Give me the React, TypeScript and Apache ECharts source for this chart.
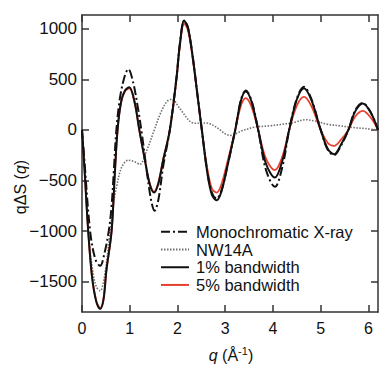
import React, { useEffect, useRef } from "react";
import * as echarts from "echarts";

// q (Å^-1) sample positions and values
const qMono = [0, 0.05, 0.17, 0.28, 0.38, 0.47, 0.56, 0.62, 0.67, 0.72, 0.8, 0.9, 0.97, 1.07, 1.17, 1.26, 1.36, 1.45, 1.52, 1.6, 1.7, 1.84, 1.98, 2.05, 2.14, 2.22, 2.32, 2.42, 2.51, 2.62, 2.72, 2.82, 2.92, 3.05, 3.21, 3.33, 3.43, 3.55, 3.69, 3.85, 4.04, 4.2, 4.34, 4.5, 4.65, 4.8, 5.0, 5.15, 5.28, 5.42, 5.58, 5.72, 5.88, 6.05, 6.2];
const vMono = [0, -300, -1000, -1280, -1344, -1220, -1000, -750, -380, 0, 330, 540, 600, 470, 220, -60, -420, -700, -800, -690, -360, 0, 520, 850, 1080, 1010, 720, 340, 0, -400, -620, -680, -600, -350, 0, 300, 390, 290, 0, -390, -563, -360, 0, 310, 425, 310, 0, -200, -250, -160, 0, 190, 265, 170, 0];

const qNW = [0, 0.05, 0.13, 0.22, 0.3, 0.38, 0.47, 0.59, 0.66, 0.72, 0.83, 0.97, 1.1, 1.21, 1.35, 1.5, 1.65, 1.78, 1.88, 2.05, 2.27, 2.4, 2.6, 2.8, 3.1, 3.35, 3.6, 3.94, 4.2, 4.43, 4.68, 4.9, 5.13, 5.4, 5.68, 5.95, 6.2];
const vNW = [0, -300, -1000, -1380, -1550, -1590, -1450, -1000, -720, -570, -370, -300, -315, -340, -210, -20, 170, 280, 303, 210, 80, 65, 68, 30, -55, -10, 25, 40, 55, 72, 100, 85, 56, 40, 23, 12, -3];

const qOne = [0, 0.05, 0.13, 0.21, 0.3, 0.38, 0.45, 0.51, 0.62, 0.68, 0.745, 0.82, 0.9, 0.99, 1.1, 1.2, 1.32, 1.42, 1.51, 1.6, 1.7, 1.84, 1.98, 2.05, 2.14, 2.22, 2.32, 2.42, 2.51, 2.62, 2.72, 2.82, 2.92, 3.05, 3.21, 3.33, 3.43, 3.55, 3.69, 3.85, 4.04, 4.2, 4.34, 4.5, 4.65, 4.8, 5.0, 5.15, 5.28, 5.42, 5.58, 5.72, 5.88, 6.05, 6.2];
const vOne = [0, -370, -1000, -1450, -1700, -1770, -1680, -1393, -1000, -500, 0, 280, 390, 420, 280, 0, -306, -540, -620, -530, -300, 0, 517, 847, 1077, 1010, 720, 340, 0, -410, -640, -695, -610, -350, 0, 290, 378, 280, 0, -330, -471, -300, 0, 300, 412, 300, 0, -190, -240, -150, 0, 180, 260, 170, 0];

const qFive = [0, 0.05, 0.13, 0.21, 0.3, 0.38, 0.45, 0.51, 0.62, 0.68, 0.745, 0.82, 0.9, 0.99, 1.1, 1.2, 1.32, 1.42, 1.51, 1.6, 1.7, 1.84, 1.98, 2.05, 2.14, 2.22, 2.32, 2.42, 2.51, 2.62, 2.72, 2.82, 2.92, 3.05, 3.21, 3.33, 3.43, 3.55, 3.69, 3.85, 4.04, 4.2, 4.34, 4.5, 4.65, 4.8, 5.0, 5.15, 5.28, 5.42, 5.58, 5.72, 5.88, 6.05, 6.2];
const vFive = [0, -370, -1000, -1450, -1690, -1760, -1670, -1393, -1000, -500, 0, 270, 380, 410, 270, 0, -300, -530, -610, -520, -290, 0, 500, 825, 1050, 985, 700, 330, 0, -370, -580, -620, -540, -310, 0, 240, 313, 230, 0, -280, -398, -260, 0, 240, 326, 240, 0, -130, -158, -100, 0, 130, 188, 120, 0];

const xTicks = [0, 1, 2, 3, 4, 5, 6];
const yTicks = [-1500, -1000, -500, 0, 500, 1000];
const seriesNames = ["Monochromatic X-ray", "NW14A", "1% bandwidth", "5% bandwidth"];

const zip = (q: number[], v: number[]) => q.map((x, i) => [x, v[i]]);

export default function App() {
  const ref = useRef<HTMLDivElement>(null);
  useEffect(() => {
    if (!ref.current) return;
    const chart = echarts.init(ref.current, undefined, { renderer: "svg" });
    const font = "Liberation Sans, Arial, Helvetica, sans-serif";
    const axisCol = "#333";
    const mkX = (pos: "bottom" | "top", labels: boolean) => ({
      type: "value",
      position: pos,
      min: 0,
      max: 6.2,
      interval: 1,
      axisLine: { show: true, onZero: false, lineStyle: { color: axisCol, width: 1.5 } },
      axisTick: { show: true, inside: true, length: 7, customValues: xTicks, lineStyle: { color: axisCol, width: 1.5 } },
      axisLabel: { show: labels, customValues: xTicks, color: "#111", fontSize: 16, fontFamily: font, margin: 8 },
      splitLine: { show: false },
    });
    const mkY = (pos: "left" | "right", labels: boolean) => ({
      type: "value",
      position: pos,
      min: -1800,
      max: 1135,
      axisLine: { show: true, onZero: false, lineStyle: { color: axisCol, width: 1.5 } },
      axisTick: { show: true, inside: true, length: 7, customValues: yTicks, lineStyle: { color: axisCol, width: 1.5 } },
      axisLabel: {
        show: labels,
        customValues: yTicks,
        color: "#111",
        fontSize: 17,
        fontFamily: font,
        margin: 5,
        formatter: (v: number) => String(v).replace("-", "\u2212"),
      },
      splitLine: { show: false },
    });
    chart.setOption({
      animation: false,
      backgroundColor: "#fff",
      grid: { left: 82, right: 2, top: 15, bottom: 59 },
      xAxis: [mkX("bottom", true), mkX("top", false)],
      yAxis: [mkY("left", true), mkY("right", false)],
      legend: {
        orient: "vertical",
        left: 158,
        top: 221,
        itemWidth: 28,
        itemHeight: 14,
        itemGap: 0,
        data: seriesNames,
        itemStyle: { opacity: 0 },
        textStyle: { fontSize: 16.5, lineHeight: 17.7, fontFamily: font, color: "#111", padding: [0, 0, 0, 2] },
        backgroundColor: "#fff",
        padding: [2, 4, 2, 2],
      },
      series: [
        {
          name: "NW14A",
          type: "line",
          data: zip(qNW, vNW),
          smooth: 0.35,
          symbol: "none",
          lineStyle: { color: "#707070", width: 1.6, type: [1.5, 1.5] },
          itemStyle: { color: "#707070" },
          z: 2,
        },
        {
          name: "5% bandwidth",
          type: "line",
          data: zip(qFive, vFive),
          smooth: 0.35,
          symbol: "none",
          lineStyle: { color: "#e8402f", width: 1.8 },
          itemStyle: { color: "#e8402f" },
          z: 3,
        },
        {
          name: "1% bandwidth",
          type: "line",
          data: zip(qOne, vOne),
          smooth: 0.35,
          symbol: "none",
          lineStyle: { color: "#111", width: 2 },
          itemStyle: { color: "#111" },
          z: 4,
        },
        {
          name: "Monochromatic X-ray",
          type: "line",
          data: zip(qMono, vMono),
          smooth: 0.35,
          symbol: "none",
          lineStyle: { color: "#111", width: 2, type: [9, 3, 2, 3] },
          itemStyle: { color: "#111" },
          z: 5,
        },
      ],
      graphic: [
        {
          type: "text",
          x: 20,
          y: 187,
          rotation: Math.PI / 2,
          style: {
            text: "{a|q\u0394S (}{i|q}{a|)}",
            align: "center",
            verticalAlign: "middle",
            rich: {
              a: { fontSize: 16, fontFamily: font, fill: "#111" },
              i: { fontSize: 16, fontFamily: font, fontStyle: "italic", fill: "#111" },
            },
          },
        },
        {
          type: "text",
          x: 231,
          y: 355,
          style: {
            text: "{i|q}{a| (\u00C5}{s|-1}{a|)}",
            align: "center",
            verticalAlign: "middle",
            rich: {
              a: { fontSize: 16, fontFamily: font, fill: "#111" },
              i: { fontSize: 16, fontFamily: font, fontStyle: "italic", fill: "#111" },
              s: { fontSize: 11, fontFamily: font, fill: "#111", verticalAlign: "top", padding: [0, 0, 8, 0] },
            },
          },
        },
      ],
    });
    return () => chart.dispose();
  }, []);
  return <div ref={ref} style={{ position: "fixed", left: 0, top: 0, width: 380, height: 371 }} />;
}
